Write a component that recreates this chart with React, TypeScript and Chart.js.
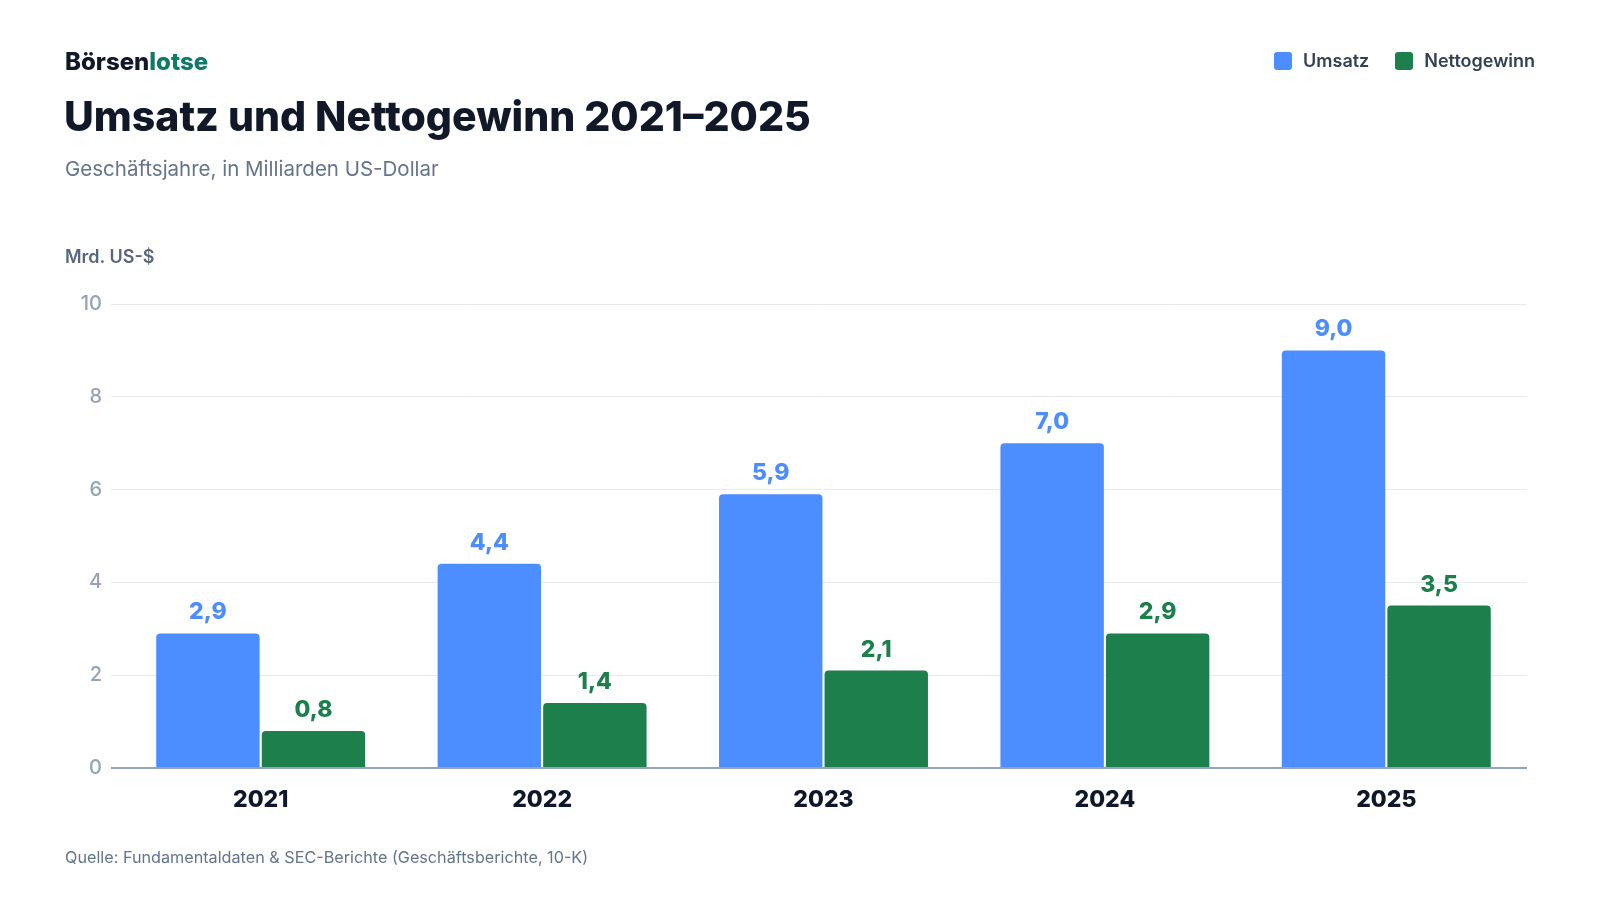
import React, { useEffect, useRef } from "react";
import { Chart, registerables } from "chart.js";

Chart.register(...registerables);

const years = ["2021", "2022", "2023", "2024", "2025"];
const umsatz = [2.9, 4.4, 5.9, 7.0, 9.0];
const nettogewinn = [0.8, 1.4, 2.1, 2.9, 3.5];
const yTicks = [0, 2, 4, 6, 8, 10];

const BLUE = "#4c8dff";
const GREEN = "#1c7f4c";
const FONT = "Inter, 'Noto Sans', sans-serif";

const fmt = (v: number) => v.toFixed(1).replace(".", ",");

const valueLabels = {
  id: "valueLabels",
  afterDatasetsDraw(chart: any) {
    const ctx = chart.ctx;
    ctx.save();
    chart.data.datasets.forEach((ds: any, i: number) => {
      const meta = chart.getDatasetMeta(i);
      meta.data.forEach((bar: any, j: number) => {
        ctx.font = `800 23px ${FONT}`;
        ctx.fillStyle = ds.backgroundColor;
        ctx.textAlign = "center";
        ctx.textBaseline = "alphabetic";
        ctx.fillText(fmt(ds.data[j]), bar.x, bar.y - 14);
      });
    });
    ctx.restore();
  },
};

export default function App() {
  const ref = useRef<HTMLCanvasElement | null>(null);

  useEffect(() => {
    if (!ref.current) return;
    const chart = new Chart(ref.current, {
      type: "bar",
      data: {
        labels: years,
        datasets: [
          {
            label: "Umsatz",
            data: umsatz,
            backgroundColor: BLUE,
            borderRadius: 4,
            borderSkipped: "bottom",
            categoryPercentage: 0.75,
            barPercentage: 0.98,
          },
          {
            label: "Nettogewinn",
            data: nettogewinn,
            backgroundColor: GREEN,
            borderRadius: 4,
            borderSkipped: "bottom",
            categoryPercentage: 0.75,
            barPercentage: 0.98,
          },
        ],
      },
      options: {
        animation: false,
        responsive: false,
        maintainAspectRatio: false,
        devicePixelRatio: 1,
        layout: { padding: { left: 60, right: 73, top: 304, bottom: 72 } },
        plugins: {
          legend: { display: false },
          tooltip: { enabled: false },
          title: { display: false },
        },
        scales: {
          x: {
            grid: { display: false },
            border: { display: false },
            ticks: {
              color: "#0f172a",
              font: { family: FONT, size: 23, weight: "800" },
              padding: 10,
            },
            afterFit: (s: any) => {
              s.height = 60;
            },
          },
          y: {
            min: 0,
            max: 10,
            afterBuildTicks: (s: any) => {
              s.ticks = yTicks.map((v) => ({ value: v }));
            },
            border: { display: false },
            grid: {
              color: (c: any) => (c.tick && c.tick.value === 0 ? "#94a3b8" : "#e8eaee"),
              lineWidth: (c: any) => (c.tick && c.tick.value === 0 ? 2 : 1),
              tickLength: 9,
              drawTicks: true,
            },
            ticks: {
              color: "#94a3b8",
              font: { family: FONT, size: 20, weight: "500" },
              padding: 9,
            },
            afterFit: (s: any) => {
              s.width = 60;
            },
          },
        },
      },
      plugins: [valueLabels],
    });
    return () => chart.destroy();
  }, []);

  const abs = (o: React.CSSProperties): React.CSSProperties => ({
    position: "absolute",
    whiteSpace: "nowrap",
    fontFamily: FONT,
    ...o,
  });

  return (
    <div
      style={{
        position: "fixed",
        left: 0,
        top: 0,
        width: 1600,
        height: 900,
        background: "#ffffff",
        overflow: "hidden",
      }}
    >
      <canvas ref={ref} width={1600} height={900} style={{ position: "absolute", left: 0, top: 0, width: 1600, height: 900 }} />
      <div style={abs({ left: 65, top: 50, fontSize: 24, lineHeight: "24px", fontWeight: 800, color: "#111827" })}>
        Börsen<span style={{ color: "#0f7a69" }}>lotse</span>
      </div>
      <div style={abs({ left: 64, top: 96, fontSize: 41, lineHeight: "41px", fontWeight: 800, color: "#111827" })}>
        Umsatz und Nettogewinn 2021–2025
      </div>
      <div style={abs({ left: 65, top: 159, fontSize: 20.5, lineHeight: "20.5px", fontWeight: 400, color: "#64748b" })}>
        Geschäftsjahre, in Milliarden US-Dollar
      </div>
      <div style={abs({ left: 65, top: 248, fontSize: 18, lineHeight: "18px", fontWeight: 600, color: "#5b667a" })}>
        Mrd. US-$
      </div>
      <div style={abs({ right: 65, top: 52, display: "flex", alignItems: "center", gap: 0, fontSize: 18, lineHeight: "18px", fontWeight: 600, color: "#334155" })}>
        <span style={{ display: "inline-block", width: 18, height: 18, borderRadius: 3, background: BLUE, marginRight: 11 }} />
        <span style={{ marginRight: 26 }}>Umsatz</span>
        <span style={{ display: "inline-block", width: 18, height: 18, borderRadius: 3, background: GREEN, marginRight: 11 }} />
        <span>Nettogewinn</span>
      </div>
      <div style={abs({ left: 65, top: 849, fontSize: 16.2, lineHeight: "16.2px", fontWeight: 400, color: "#64748b" })}>
        Quelle: Fundamentaldaten &amp; SEC-Berichte (Geschäftsberichte, 10-K)
      </div>
    </div>
  );
}
